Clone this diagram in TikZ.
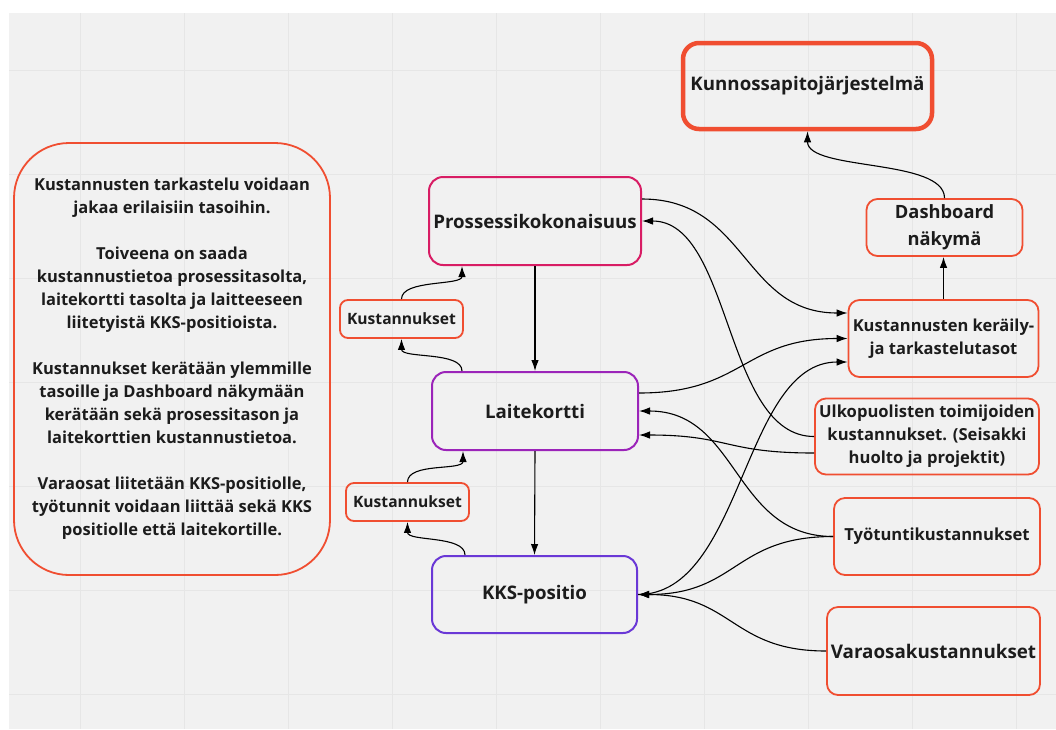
\documentclass[tikz,border=0pt]{standalone}
\usepackage{fontspec}
\setmainfont{Open Sans}
\usetikzlibrary{arrows.meta,calc}
\definecolor{boardbg}{HTML}{F1F1F1}
\definecolor{gridline}{HTML}{E6E6E6}
\definecolor{inktext}{HTML}{1C1C1C}
\definecolor{redorange}{HTML}{F04E31}
\definecolor{crimson}{HTML}{D81C64}
\definecolor{plum}{HTML}{9B24B9}
\definecolor{violet}{HTML}{6A38D6}
\tikzset{
  card/.style={draw=redorange, line width=1.8pt, rounded corners=11pt, inner sep=0pt,
    align=center, text=inktext, font=\bfseries},
  level/.style={card, line width=2pt, rounded corners=14pt},
  link/.style={draw=black, line width=1.1pt, -{Latex[length=11pt,width=7.5pt]}},
}
\begin{document}
\begin{tikzpicture}[x=1pt,y=-1pt]
  \useasboundingbox (0,0) rectangle (1056,729);
  \fill[white] (0,0) rectangle (1056,729);
  \fill[boardbg] (9,13) rectangle (1056,729);
  \foreach \gx in {80,184,...,1016} \draw[gridline, line width=1pt] (\gx,13) -- (\gx,729);
  \foreach \gy in {70,174,...,694} \draw[gridline, line width=1pt] (9,\gy) -- (1056,\gy);

  % explanatory note
  \node[card, rounded corners=55pt, minimum width=316pt, minimum height=432pt,
        font=\bfseries\fontsize{16.5}{23}\selectfont] (note) at (172,359)
    {Kustannusten tarkastelu voidaan\\jakaa erilaisiin tasoihin.\\[23pt]
     Toiveena on saada\\kustannustietoa prosessitasolta,\\laitekortti tasolta ja laitteeseen\\liitetyistä KKS-positioista.\\[23pt]
     Kustannukset kerätään ylemmille\\tasoille ja Dashboard näkymään\\kerätään sekä prosessitason ja\\laitekorttien kustannustietoa.\\[23pt]
     Varaosat liitetään KKS-positiolle,\\työtunnit voidaan liittää sekä KKS\\positiolle että laitekortille.};

  % hierarchy levels
  \node[level, draw=crimson, minimum width=212pt, minimum height=88pt,
        font=\bfseries\fontsize{18.7}{22}\selectfont] (pross) at (535,221) {Prossessikokonaisuus};
  \node[level, draw=plum, minimum width=206pt, minimum height=78pt,
        font=\bfseries\fontsize{18.7}{22}\selectfont] (laite) at (535,411) {Laitekortti};
  \node[level, draw=violet, minimum width=205pt, minimum height=77pt,
        font=\bfseries\fontsize{18.7}{22}\selectfont] (kks) at (534.5,594.5) {KKS-positio};

  \node[card, rounded corners=8pt, minimum width=123pt, minimum height=38pt,
        font=\bfseries\fontsize{15.6}{18}\selectfont] (kustU) at (401.5,319) {Kustannukset};
  \node[card, rounded corners=8pt, minimum width=123pt, minimum height=38pt,
        font=\bfseries\fontsize{15.6}{18}\selectfont] (kustL) at (407.5,502) {Kustannukset};

  % right column
  \node[card, line width=4.5pt, rounded corners=16pt, minimum width=249pt, minimum height=86pt,
        font=\bfseries\fontsize{18.7}{22}\selectfont] (kunn) at (807.5,86) {Kunnossapitojärjestelmä};
  \node[card, minimum width=156pt, minimum height=57pt,
        font=\bfseries\fontsize{18.3}{27}\selectfont] (dash) at (944.5,227.5) {Dashboard\\näkymä};
  \node[card, minimum width=190pt, minimum height=77pt,
        font=\bfseries\fontsize{16.5}{23}\selectfont] (ker) at (943.5,338.5) {Kustannusten keräily-\\ja tarkastelutasot};
  \node[card, minimum width=224pt, minimum height=76pt,
        font=\bfseries\fontsize{16.6}{23}\selectfont] (ulk) at (927,436.5) {Ulkopuolisten toimijoiden\\kustannukset. (Seisakki\\huolto ja projektit)};
  \node[card, minimum width=206pt, minimum height=77pt,
        font=\bfseries\fontsize{16.6}{20}\selectfont] (tyo) at (937,536.5) {Työtuntikustannukset};
  \node[card, minimum width=213pt, minimum height=88pt,
        font=\bfseries\fontsize{18.8}{22}\selectfont] (var) at (933.5,651) {Varaosakustannukset};

  % vertical flow
  \draw[link] (pross.south) -- (laite.north);
  \draw[link] (laite.south) -- (kks.north);
  \draw[link] (ker.north) -- (ker.north |- dash.south);

  % cost bubbles
  \draw[link] ($(laite.north)+(-73,0)$) .. controls +(0,-20) and +(0,20) .. (kustU.south);
  \draw[link] (kustU.north) .. controls +(0,-20) and +(0,20) .. ($(pross.south)+(-73,0)$);
  \draw[link] ($(kks.north)+(-69.5,0)$) .. controls +(0,-20) and +(0,20) .. (kustL.south);
  \draw[link] (kustL.north) .. controls +(0,-20) and +(0,20) .. ($(laite.south)+(-72,0)$);
  \draw[link] (dash.north) .. controls +(0,-40) and +(0,40) .. (kunn.south);

  % collection connectors
  \draw[link] ($(pross.east)+(0,-22)$) .. controls +(105,0) and +(-105,0) .. ($(ker.west)+(0,-25.5)$);
  \draw[link] ($(laite.east)+(0,-18)$) .. controls +(105,0) and +(-105,0) .. (ker.west);
  \draw[link] (kks.east) .. controls +(105,0) and +(-105,0) .. ($(ker.west)+(0,23.5)$);
  \draw[link] (ulk.west) .. controls +(-90,0) and +(90,0) .. (pross.east);
  \draw[link] ($(ulk.west)+(0,16.5)$) .. controls +(-90,0) and +(90,0) .. ($(laite.east)+(0,24)$);
  \draw[link] (tyo.west) .. controls +(-100,0) and +(100,0) .. (laite.east);
  \draw[link] (tyo.west) .. controls +(-100,0) and +(100,0) .. (kks.east);
  \draw[link] (var.west) .. controls +(-95,0) and +(95,0) .. (kks.east);
\end{tikzpicture}
\end{document}
